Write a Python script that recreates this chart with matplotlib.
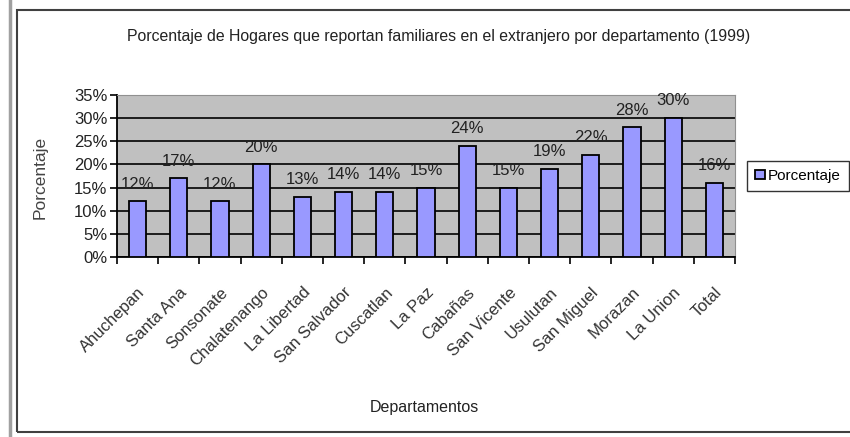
import matplotlib.pyplot as plt
from matplotlib.patches import Rectangle
from matplotlib.lines import Line2D
import numpy as np

plt.rcParams['font.family'] = ['Liberation Sans', 'DejaVu Sans']

# data
departamentos = ['Ahuchepan', 'Santa Ana', 'Sonsonate', 'Chalatenango', 'La Libertad',
                 'San Salvador', 'Cuscatlan', 'La Paz', 'Cabañas', 'San Vicente',
                 'Usulutan', 'San Miguel', 'Morazan', 'La Union', 'Total']
porcentaje = [12, 17, 12, 20, 13, 14, 14, 15, 24, 15, 19, 22, 28, 30, 16]

fig = plt.figure(figsize=(8.5, 4.37), dpi=100)

# outer chart frame
fig.add_artist(Line2D([9.5 / 850, 9.5 / 850], [0, 1], color='#a0a0a0', lw=2.5))
fig.add_artist(Rectangle((17 / 850, 5 / 437), 1, 422 / 437, fill=False,
                         edgecolor='#404040', lw=1.5))

ax = fig.add_axes([117 / 850, 1 - 257 / 437, 618 / 850, 162 / 437])
ax.set_facecolor('#c0c0c0')

x = np.arange(len(departamentos))
ax.bar(x, porcentaje, width=0.42, color='#9999ff', edgecolor='black', linewidth=1.3,
       zorder=3, label='Porcentaje')

for xi, v in zip(x, porcentaje):
    ax.annotate(f'{v}%', (xi, v), xytext=(0, 7), textcoords='offset points',
                ha='center', va='bottom', fontsize=12, color='#222222', zorder=4)

ax.set_ylim(0, 35)
ax.set_xlim(-0.5, len(departamentos) - 0.5)
ax.set_yticks(range(0, 36, 5))
ax.set_yticklabels([f'{t}%' for t in range(0, 36, 5)], fontsize=12, color='#222222')
ax.yaxis.grid(True, color='black', linewidth=1.2, zorder=1)

# ticks between categories, labels at centers
ax.set_xticks(np.arange(-0.5, len(departamentos), 1))
ax.set_xticklabels([])
ax.set_xticks(x, minor=True)
ax.set_xticklabels(departamentos, minor=True, rotation=45, ha='right',
                   rotation_mode='anchor', fontsize=12, color='#333333')
ax.tick_params(axis='x', which='minor', length=0, pad=20)
ax.tick_params(axis='x', which='major', length=5, width=1.2, direction='out')
ax.tick_params(axis='y', length=5, width=1.2, direction='out', pad=2)

for side in ['top', 'right']:
    ax.spines[side].set_color('#909090')
ax.spines['left'].set_linewidth(1.3)
ax.spines['bottom'].set_linewidth(1.3)

ax.set_ylabel('Porcentaje', fontsize=12.5, color='#444444')
ax.yaxis.set_label_coords(-0.112, 0.49)
ax.set_xlabel('Departamentos', fontsize=11.5, color='#222222')
ax.xaxis.set_label_coords(0.497, -0.883)

fig.text(0.516, 1 - 37 / 437, 'Porcentaje de Hogares que reportan familiares en el extranjero por departamento (1999)',
         ha='center', va='center', fontsize=11.4, color='#222222')

leg = ax.legend(loc='center left', bbox_to_anchor=(747 / 850, 1 - 176 / 437),
                bbox_transform=fig.transFigure, fontsize=11, frameon=True,
                fancybox=False, edgecolor='black', handlelength=0.6, handleheight=0.6,
                handletextpad=0.2, borderpad=0.55, borderaxespad=0)
leg.get_frame().set_linewidth(1.0)

fig.savefig('out.png', dpi=100)
